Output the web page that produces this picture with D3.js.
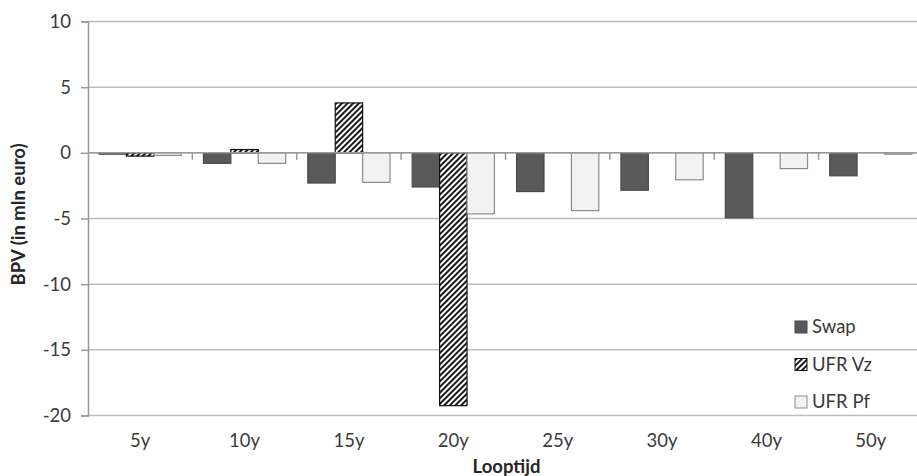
<!DOCTYPE html>
<html>
<head>
<meta charset="utf-8">
<script src="https://cdn.jsdelivr.net/npm/d3@7"></script>
<style>
  html, body { margin: 0; padding: 0; background: #fff; overflow: hidden; }
  svg { display: block; font-family: Lato, "Open Sans", "Liberation Sans", sans-serif; }
</style>
</head>
<body>
<svg id="chart" width="917" height="476"></svg>
<script>
// Maturity buckets and BPV (mln euro) per series
const categories = ["5y", "10y", "15y", "20y", "25y", "30y", "40y", "50y"];
const seriesNames = ["Swap", "UFR Vz", "UFR Pf"];
const swap  = [-0.1, -0.8, -2.3, -2.6, -2.95, -2.85, -4.95, -1.75];
const ufrVz = [-0.25, 0.25, 3.8, -19.25, 0, 0, 0, 0];
const ufrPf = [-0.2, -0.8, -2.25, -4.65, -4.4, -2.05, -1.2, -0.1];
const yTicks = [10, 5, 0, -5, -10, -15, -20];

const seriesValues = [swap, ufrVz, ufrPf];
const rows = categories.map((c, i) => ({
  cat: c,
  vals: seriesNames.map((s, j) => ({ key: s, value: seriesValues[j][i] }))
}));

const svg = d3.select("#chart");
const plot = { left: 88, right: 923, top: 21.5, bottom: 415.5 };

const x0 = d3.scaleBand().domain(categories).range([plot.left, plot.right]).padding(0);
const x1 = d3.scaleBand().domain(seriesNames)
  .range([x0.bandwidth() * 0.106, x0.bandwidth() * 0.894]).padding(0);
const y = d3.scaleLinear().domain([-20, 10]).range([plot.bottom, plot.top]);

// Diagonal hatch for the UFR Vz series
const defs = svg.append("defs");
const pat = defs.append("pattern")
  .attr("id", "hatch").attr("patternUnits", "userSpaceOnUse")
  .attr("width", 4).attr("height", 4)
  .attr("patternTransform", "rotate(45)");
pat.append("rect").attr("width", 4).attr("height", 4).attr("fill", "#ffffff");
pat.append("rect").attr("width", 2).attr("height", 4).attr("fill", "#1a1a1a");

const fills = { "Swap": "#595959", "UFR Vz": "url(#hatch)", "UFR Pf": "#f2f2f2" };
const strokes = { "Swap": "#4a4a4a", "UFR Vz": "#111111", "UFR Pf": "#8c8c8c" };
const textColor = "#3a3a3a";
const fontSize = 18.5;

// Horizontal gridlines
svg.append("g").selectAll("line").data(yTicks).join("line")
  .attr("x1", plot.left).attr("x2", 917)
  .attr("y1", d => y(d)).attr("y2", d => y(d))
  .attr("stroke", "#bdbdbd").attr("stroke-width", 1.5);

// Bars
const groups = svg.append("g").selectAll("g").data(rows).join("g")
  .attr("transform", d => `translate(${x0(d.cat)},0)`);
groups.selectAll("rect").data(d => d.vals).join("rect")
  .attr("x", d => x1(d.key))
  .attr("width", x1.bandwidth())
  .attr("y", d => y(Math.max(0, d.value)))
  .attr("height", d => Math.abs(y(d.value) - y(0)))
  .attr("fill", d => fills[d.key])
  .attr("stroke", d => strokes[d.key])
  .attr("stroke-width", d => d.value === 0 ? 0 : 1.2);

// Category axis along zero
const xAxisG = svg.append("g");
xAxisG.append("line")
  .attr("x1", plot.left).attr("x2", 917)
  .attr("y1", y(0)).attr("y2", y(0))
  .attr("stroke", "#9a9a9a").attr("stroke-width", 1.5);
xAxisG.selectAll("line.tk").data(categories.slice(1)).join("line")
  .attr("class", "tk")
  .attr("x1", d => x0(d)).attr("x2", d => x0(d))
  .attr("y1", y(0)).attr("y2", y(0) + 7)
  .attr("stroke", "#9a9a9a").attr("stroke-width", 1.5);

// Category labels below the plot
svg.append("g").selectAll("text").data(categories).join("text")
  .attr("x", d => x0(d) + x0.bandwidth() / 2)
  .attr("y", 447)
  .attr("text-anchor", "middle")
  .attr("font-size", fontSize)
  .attr("fill", textColor)
  .text(d => d);

// Value axis (plain hyphen for negatives)
const yAxis = d3.axisLeft(y).tickValues(yTicks).tickSize(7).tickPadding(10).tickFormat(d => String(d));
const yg = svg.append("g").attr("transform", `translate(${plot.left},0)`).call(yAxis);
yg.select(".domain").attr("stroke", "#9a9a9a").attr("stroke-width", 1.5);
yg.selectAll(".tick line").attr("stroke", "#9a9a9a").attr("stroke-width", 1.5);
yg.selectAll(".tick text").attr("font-size", fontSize).attr("fill", textColor)
  .attr("font-family", "Lato, 'Open Sans', sans-serif");

// Axis titles
svg.append("text")
  .attr("transform", `translate(25,${(plot.top + plot.bottom) / 2 - 4}) rotate(-90)`)
  .attr("text-anchor", "middle")
  .attr("font-size", fontSize).attr("font-weight", "bold").attr("fill", "#262626")
  .text("BPV (in mln euro)");
svg.append("text")
  .attr("x", (plot.left + plot.right) / 2 + 1).attr("y", 473)
  .attr("text-anchor", "middle")
  .attr("font-size", fontSize).attr("font-weight", "bold").attr("fill", "#262626")
  .text("Looptijd");

// Legend
const legend = svg.append("g").selectAll("g").data(seriesNames).join("g")
  .attr("transform", (d, i) => `translate(795,${327 + i * 37.5})`);
legend.append("rect")
  .attr("x", 0).attr("y", -6).attr("width", 12).attr("height", 12)
  .attr("fill", d => fills[d]).attr("stroke", d => strokes[d]).attr("stroke-width", 1);
legend.append("text")
  .attr("x", 17).attr("y", 0).attr("dy", "0.35em")
  .attr("font-size", fontSize).attr("fill", textColor)
  .text(d => d);
</script>
</body>
</html>
